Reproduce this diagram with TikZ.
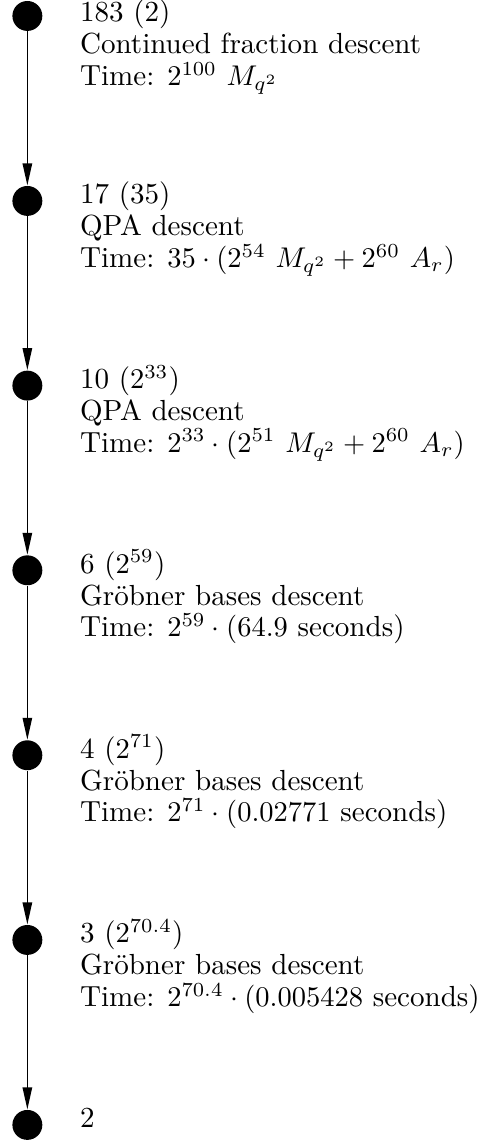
\documentclass[tikz,border=0pt]{standalone}
\usetikzlibrary{arrows.meta}

\tikzset{
  dot/.style={circle, fill=black, inner sep=0pt, minimum size=10.5pt},
  info/.style={anchor=base west, inner sep=0pt, align=left,
    font={\fontsize{10.2}{11.2}\selectfont}},
  down/.style={-{Triangle[length=7.7pt, width=3.3pt]}, line width=0.5pt}
}

\begin{document}
\begin{tikzpicture}[x=1pt, y=1pt]

\useasboundingbox (0,0) rectangle (169.1,-401.4);

\node[dot] (d183) at (9.6, -5.6) {};
\node[dot] (d17) at (9.6, -70.5) {};
\node[dot] (d10) at (9.6, -135.3) {};
\node[dot] (d6) at (9.6, -200.1) {};
\node[dot] (d4) at (9.6, -265.0) {};
\node[dot] (d3) at (9.6, -329.8) {};
\node[dot] (d2) at (9.6, -394.7) {};

% base of a label is the base of its last line
\node[info] (t183) at (27.9, -30.0) {183 (2)\\ Continued fraction descent\\ Time: $2^{100}\ M_{q^2}$};
\node[info] (t17) at (27.9, -93.9) {17 (35)\\ QPA descent\\ Time: $35 \cdot (2^{54}\ M_{q^2} + 2^{60}\ A_r)$};
\node[info] (t10) at (27.9, -158.7) {10 ($2^{33}$)\\ QPA descent\\ Time: $2^{33} \cdot (2^{51}\ M_{q^2} + 2^{60}\ A_r)$};
\node[info] (t6) at (27.9, -223.5) {6 ($2^{59}$)\\ Gr\"obner bases descent\\ Time: $2^{59} \cdot (64.9$ seconds)};
\node[info] (t4) at (27.9, -288.4) {4 ($2^{71}$)\\ Gr\"obner bases descent\\ Time: $2^{71} \cdot (0.02771$ seconds)};
\node[info] (t3) at (27.9, -353.2) {3 ($2^{70.4}$)\\ Gr\"obner bases descent\\ Time: $2^{70.4} \cdot (0.005428$ seconds)};
\node[info] (t2) at (27.9, -395.7) {2};

\draw[down] (d183) -- (d17);
\draw[down] (d17) -- (d10);
\draw[down] (d10) -- (d6);
\draw[down] (d6) -- (d4);
\draw[down] (d4) -- (d3);
\draw[down] (d3) -- (d2);

\end{tikzpicture}
\end{document}
